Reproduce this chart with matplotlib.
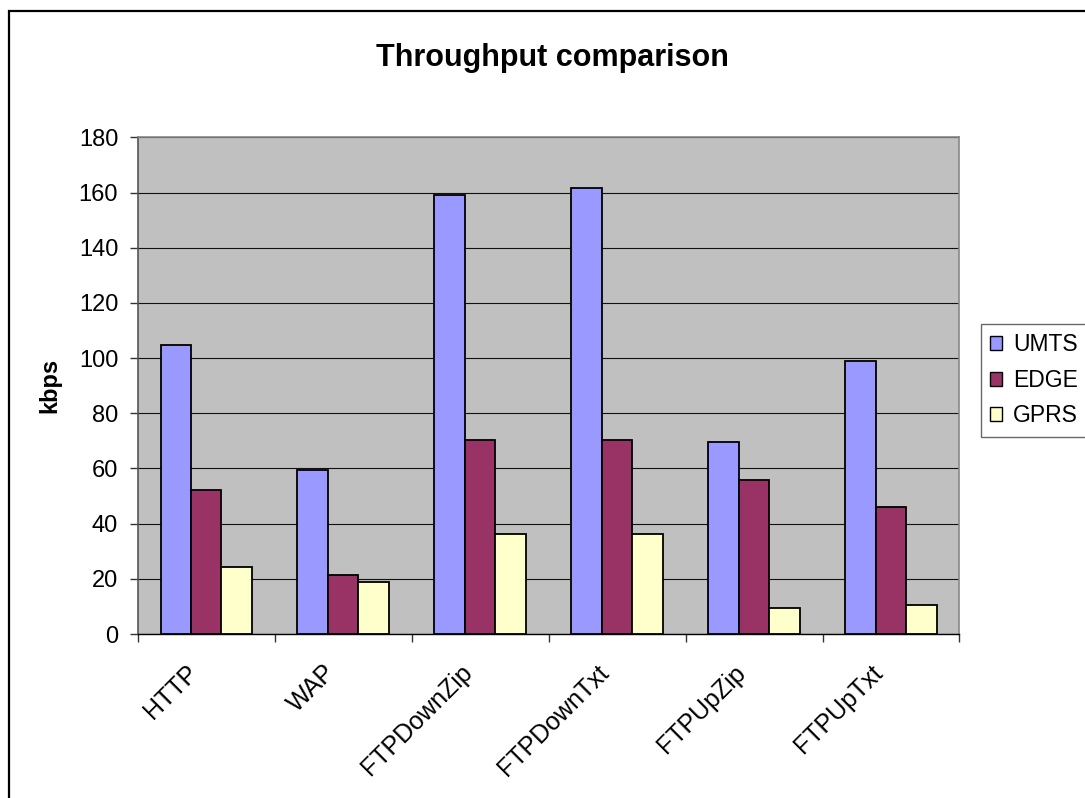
import numpy as np
import matplotlib.pyplot as plt
from matplotlib.patches import Patch, Rectangle
from matplotlib.transforms import ScaledTranslation

plt.rcParams['font.family'] = ['Liberation Sans', 'DejaVu Sans']

categories = ['HTTP', 'WAP', 'FTPDownZip', 'FTPDownTxt', 'FTPUpZip', 'FTPUpTxt']
umts = [104.6, 59.3, 159.2, 161.8, 69.6, 99.1]
edge = [52.3, 21.5, 70.4, 70.3, 55.8, 46.0]
gprs = [24.3, 18.8, 36.2, 36.2, 9.6, 10.4]
series_names = ['UMTS', 'EDGE', 'GPRS']
colors = ['#9999FF', '#993366', '#FFFFCC']

fig = plt.figure(figsize=(10.85, 7.98), dpi=100)
ax = fig.add_axes([0.1269, 0.2055, 0.7574, 0.6224])
ax.set_facecolor('#C0C0C0')

# outer chart border (runs off the right and bottom edge)
fig.patches.append(Rectangle((9 / 1085, -0.2), 1.2, 1.2 - 11 / 798,
                             transform=fig.transFigure, fill=False,
                             edgecolor='black', linewidth=1.6))

x = np.arange(len(categories)) + 0.5
w = 1 / 4.5
for k, (vals, c) in enumerate(zip([umts, edge, gprs], colors)):
    ax.bar(x + (k - 1) * w, vals, width=w, color=c, edgecolor='black',
           linewidth=1.3, zorder=3)

ax.set_xlim(0, len(categories))
ax.set_ylim(0, 180)
ax.set_yticks(np.arange(0, 181, 20))
ax.yaxis.grid(True, color='#111111', linewidth=0.8, zorder=1)
ax.set_axisbelow(True)

# ticks at category boundaries, labels at category centres
ax.set_xticks(np.arange(0, len(categories) + 1))
ax.set_xticklabels([])
ax.set_xticks(x, minor=True)
ax.set_xticklabels(categories, minor=True, rotation=45, ha='right',
                   va='center', rotation_mode='anchor', fontsize=18)
ax.tick_params(axis='x', which='minor', length=0, pad=25)
ax.tick_params(axis='x', which='major', direction='out', length=6,
               width=1.0, color='#333333')
ax.tick_params(axis='y', direction='out', length=6, width=1.0,
               color='#333333', labelsize=17, pad=8)
for lab in ax.get_xticklabels(minor=True):
    lab.set_transform(lab.get_transform() +
                      ScaledTranslation(-0.12, 0, fig.dpi_scale_trans))

for side in ['top', 'right']:
    ax.spines[side].set_color('#888888')
    ax.spines[side].set_linewidth(1.2)
ax.spines['left'].set_color('#555555')
ax.spines['left'].set_linewidth(1.2)
ax.spines['bottom'].set_color('black')
ax.spines['bottom'].set_linewidth(1.0)

ax.set_ylabel('kbps', fontsize=17, fontweight='bold')
ax.yaxis.set_label_coords(-0.0925, 0.5)

fig.text(552 / 1085, 1 - 66 / 798, 'Throughput comparison', ha='center',
         va='baseline', fontsize=22, fontweight='bold')

handles = [Patch(facecolor=c, edgecolor='black', linewidth=1.0) for c in colors]
leg = fig.legend(handles, series_names, loc='upper left',
                 bbox_to_anchor=(980.7 / 1085, 1 - 324 / 798),
                 borderaxespad=0, fontsize=16.5, frameon=True, fancybox=False,
                 handlelength=0.55, handleheight=0.55, handletextpad=0.45,
                 borderpad=0.4, labelspacing=0.55)
leg.get_frame().set_edgecolor('#444444')
leg.get_frame().set_linewidth(1.0)

fig.savefig('out.png', dpi=100)
